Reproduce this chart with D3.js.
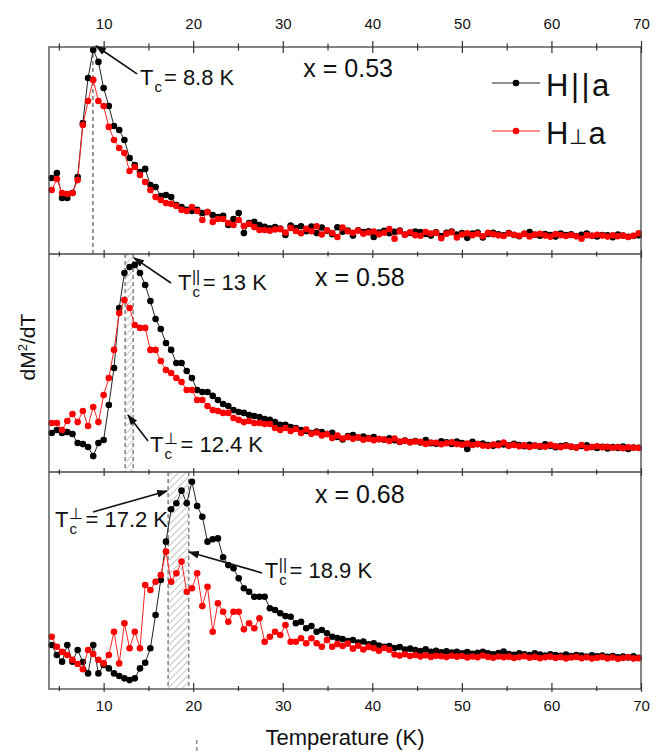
<!DOCTYPE html>
<html>
<head>
<meta charset="utf-8">
<script src="https://cdn.jsdelivr.net/npm/d3@7"></script>
<style>
  body { margin: 0; background: #fff; }
  text { font-family: 'Liberation Sans', Arial, sans-serif; fill: #111; }
</style>
</head>
<body>
<svg id="chart" width="663" height="752"></svg>
<script>
// measurement temperatures (K), shared by all panels
var temps = [
  4.2, 4.78, 5.36, 5.94, 6.52, 7.1, 7.68, 8.26, 8.84, 9.42,
  10.0, 10.58, 11.16, 11.74, 12.32, 12.9, 13.48, 14.06, 14.64, 15.22,
  15.8, 16.38, 16.96, 17.54, 18.12, 18.7, 19.28, 19.86, 20.44, 21.02,
  21.6, 22.18, 22.76, 23.34, 23.92, 24.5, 25.08, 25.66, 26.24, 26.82,
  27.4, 27.98, 28.56, 29.14, 29.72, 30.3, 30.88, 31.46, 32.04, 32.62,
  33.2, 33.78, 34.36, 34.94, 35.52, 36.1, 36.68, 37.26, 37.84, 38.42,
  39.0, 39.58, 40.16, 40.74, 41.32, 41.9, 42.48, 43.06, 43.64, 44.22,
  44.8, 45.38, 45.96, 46.54, 47.12, 47.7, 48.28, 48.86, 49.44, 50.02,
  50.6, 51.18, 51.76, 52.34, 52.92, 53.5, 54.08, 54.66, 55.24, 55.82,
  56.4, 56.98, 57.56, 58.14, 58.72, 59.3, 59.88, 60.46, 61.04, 61.62,
  62.2, 62.78, 63.36, 63.94, 64.52, 65.1, 65.68, 66.26, 66.84, 67.42,
  68.0, 68.58, 69.16, 69.74
];

// dM^2/dT, arbitrary units (0-100 per panel)
var para053 = [
  36.7, 39.1, 27.1, 27.1, 29.5, 37.2, 63.3, 85.0, 98.6, 92.8,
  80.2, 71.5, 61.8, 59.9, 55.1, 46.4, 43.0, 39.6, 41.1, 33.3,
  32.4, 28.0, 28.5, 27.5, 23.7, 22.7, 21.3, 20.8, 21.3, 19.8,
  20.3, 18.8, 17.9, 18.4, 14.0, 16.9, 19.8, 10.1, 15.0, 15.5,
  14.0,
  13.2, 12.4, 13.0, 12.3, 9.2, 13.8, 12.5, 13.4, 11.0, 13.3,
  10.1, 12.8, 11.2, 9.6, 12.9, 10.8, 11.3, 8.9, 11.5, 10.6,
  11.0, 8.2, 10.4, 11.2, 10.0, 10.7, 11.3, 9.4, 10.2, 10.9,
  10.6, 9.7, 8.9, 10.5, 8.7, 10.2, 10.8, 9.4, 10.1, 7.8,
  9.9, 10.4, 8.0, 9.7, 10.3, 9.5, 9.0, 10.1, 9.2, 8.6,
  9.8, 10.6, 9.3, 8.8, 9.6, 9.2, 8.4, 9.9, 9.1, 9.5,
  8.7, 9.3, 9.9, 8.8, 8.5, 9.2, 9.0, 8.1, 9.4, 8.9, 8.3, 8.7, 9.0
];
var perp053 = [
  30.9, 36.2, 29.5, 29.0, 29.5, 35.7, 62.3, 73.9, 84.1, 73.9,
  71.5, 61.4, 55.1, 51.2, 48.8, 40.1, 42.0, 38.2, 34.8, 30.9,
  27.5, 26.1, 24.6, 24.2, 23.2, 21.3, 20.8, 22.7, 20.8, 16.4,
  20.3, 15.5, 16.9, 16.9, 15.0, 14.0, 16.4, 13.5, 14.5, 13.0,
  11.6,
  11.6, 11.2, 11.8, 12.0, 10.4, 12.6, 11.1, 10.0, 12.2, 11.0,
  13.4, 9.4, 11.5, 10.1, 8.2, 12.8, 11.0, 10.3, 11.3, 9.8,
  10.4, 10.9, 9.5, 10.3, 12.1, 7.4, 11.0, 9.3, 10.5, 9.1,
  8.8, 10.6, 9.9, 10.2, 7.6, 9.8, 10.5, 8.0, 9.4, 10.0,
  9.1, 9.8, 8.6, 10.2, 9.5, 9.0, 8.7, 9.9, 9.3, 8.8,
  9.7, 8.5, 9.4, 9.8, 8.9, 8.3, 9.6, 9.1, 8.7, 9.2,
  8.6, 7.4, 9.1, 8.8, 9.3, 8.9, 8.4, 9.0, 8.6, 8.9, 8.2, 8.8, 10.0
];
var para058 = [
  17.9, 19.3, 17.9, 18.3, 17.4, 13.3, 12.8, 11.5, 7.3, 13.3,
  14.7, 30.7, 47.7, 75.2, 91.3, 94.0, 95.0, 91.3, 85.8, 78.4,
  70.2, 65.6, 59.2, 56.0, 50.0, 50.0, 46.3, 43.1, 37.6, 36.7,
  36.7, 34.9, 33.0, 31.2, 30.3, 28.4, 27.5, 27.1, 26.1, 25.7,
  25.2, 24.3, 23.9, 22.9, 21.6, 21.6, 20.6, 20.2,
  19.3, 18.8, 17.9, 18.5, 18.3, 17.4, 18.0, 16.1, 14.9, 16.5,
  17.0, 15.8, 16.3, 15.6, 16.0, 15.1, 14.8, 15.5, 14.6, 13.8,
  14.4, 13.7, 14.2, 13.5, 14.6, 13.2, 13.0, 14.1, 13.6, 12.9,
  14.0, 13.3, 10.6, 13.8, 12.8, 13.1, 12.4, 12.0, 13.0, 12.6,
  12.2, 12.9, 12.4, 11.8, 12.5, 12.1, 11.6, 12.7, 12.0, 11.4,
  11.9, 12.3, 11.6, 11.2, 11.9, 12.2, 11.5, 11.0, 11.6, 10.8,
  11.4, 11.0, 11.7, 10.6, 11.2, 11.1
];
var perp058 = [
  22.5, 22.5, 19.3, 23.4, 26.6, 22.9, 28.0, 21.1, 29.8, 22.9,
  35.3, 43.1, 56.0, 72.9, 78.9, 75.2, 67.4, 66.1, 66.1, 56.0,
  56.0, 50.9, 46.8, 45.4, 43.1, 41.3, 37.6, 37.6, 33.0, 33.0,
  30.3, 28.4, 28.0, 27.1, 27.1, 24.8, 23.9, 22.9, 23.4, 22.5,
  22.5, 22.0, 22.0, 20.2, 19.3, 20.2, 18.8, 19.7,
  17.9, 19.5, 17.5, 18.1, 16.8, 17.4, 15.6, 16.7, 15.4, 16.0,
  15.2, 15.9, 14.8, 15.3, 14.6, 15.1, 14.9, 14.2, 15.4, 13.9,
  14.3, 13.6, 14.0, 13.8, 12.9, 13.5, 13.4, 12.7, 13.2, 13.6,
  12.8, 12.5, 13.0, 12.4, 12.8, 12.1, 11.9, 12.6, 12.3, 13.5,
  12.0, 12.4, 11.8, 12.2, 11.5, 12.0, 11.9, 11.6, 12.5, 11.8,
  11.4, 11.9, 11.7, 11.2, 12.4, 11.0, 11.5, 11.8, 11.3, 11.6,
  11.1, 11.4, 10.9, 11.3, 11.2, 11.0
];
var para068 = [
  20.3, 15.7, 12.6, 20.3, 12.6, 18.0, 12.4, 7.2, 20.3, 7.2,
  11.1, 9.5, 7.2, 6.0, 4.9, 4.1, 4.9, 9.5, 12.1, 18.8,
  34.1, 50.2, 67.9, 82.8, 85.6, 91.4, 85.6, 95.5, 84.3, 79.4,
  67.9, 69.0, 69.4, 60.7, 57.1, 55.6, 51.0, 46.4, 44.8, 42.5,
  42.5, 42.5, 37.2, 36.4, 34.9, 33.6, 33.3, 30.3, 31.0, 28.0,
  29.0, 26.4, 27.2, 25.7, 24.1, 23.5,
  23.0, 22.1, 22.6, 21.4, 21.9, 20.6, 21.1, 20.0, 19.4, 19.8,
  18.9, 19.3, 18.2, 18.6, 18.0, 17.5, 18.3, 17.2, 17.6, 16.9,
  17.4, 16.8, 17.1, 16.5, 17.0, 16.2, 16.7, 17.2, 16.4, 16.0,
  16.6, 17.3, 16.1, 15.8, 16.4, 16.0, 15.7, 16.5, 15.9, 15.4,
  16.0, 15.6, 15.3, 15.9, 15.2, 15.7, 15.4, 14.9, 15.5, 15.1,
  15.4, 14.8, 15.2, 14.6, 15.0, 14.5, 15.1, 14.4
];
var perp068 = [
  24.1, 19.5, 17.1, 15.7, 13.4, 11.5, 9.1, 18.0, 16.1, 13.4,
  11.8, 15.7, 26.4, 11.8, 30.3, 18.8, 26.4, 18.8, 47.9, 45.6,
  49.4, 52.5, 63.3, 49.4, 53.3, 58.7, 44.8, 46.4, 53.3, 38.2,
  47.1, 26.4, 39.5, 35.6, 31.0, 35.6, 35.6, 27.5, 30.3, 28.0,
  32.6, 21.8, 24.1, 26.4, 24.9, 29.5, 21.8, 21.8, 23.4, 21.1,
  23.4, 21.1, 19.5, 22.6, 19.5, 20.7,
  19.8, 20.9, 18.6, 19.9, 18.2, 19.4, 18.8, 17.6, 18.9, 18.1,
  15.9, 15.4, 16.0, 15.2, 15.7, 15.0, 15.5, 14.8, 15.3, 15.1,
  14.7, 15.3, 14.9, 15.2, 14.5, 15.0, 14.6, 15.4, 14.8, 14.4,
  15.0, 14.6, 14.9, 14.3, 14.7, 15.1, 14.4, 14.8, 14.2, 14.6,
  14.9, 14.3, 14.7, 14.1, 14.5, 14.8, 14.2, 14.6, 14.0, 14.4,
  14.7, 14.1, 14.5, 13.9, 14.3, 14.6, 14.0, 14.2
];

var compositions = ['x = 0.53', 'x = 0.58', 'x = 0.68'];
var seriesNames = ['H||a', 'H\u22A5a'];
var majorTicks = [10, 20, 30, 40, 50, 60, 70];
var minorTicks = [5, 15, 25, 35, 45, 55, 65];

// transition temperatures (K)
var tcSingle = 8.8;
var band058 = [12.4, 13.3];
var band068 = [17.2, 19.5];

var svg = d3.select('#chart');
var fontAnn = 22;

var edges = [47, 254, 472, 689];
var x = d3.scaleLinear().domain([3.9, 70]).range([49, 641]);

var defs = svg.append('defs');
defs.append('pattern')
    .attr('id', 'hatch')
    .attr('patternUnits', 'userSpaceOnUse')
    .attr('width', 5).attr('height', 5)
    .attr('patternTransform', 'rotate(45)')
  .append('line')
    .attr('x1', 0).attr('y1', 0).attr('x2', 0).attr('y2', 5)
    .attr('stroke', '#888').attr('stroke-width', 1);

defs.append('marker')
    .attr('id', 'arrow')
    .attr('viewBox', '0 0 10 7')
    .attr('refX', 9).attr('refY', 3.5)
    .attr('markerWidth', 11).attr('markerHeight', 7.7)
    .attr('markerUnits', 'userSpaceOnUse')
    .attr('orient', 'auto')
  .append('path')
    .attr('d', 'M0,0 L10,3.5 L0,7 z')
    .attr('fill', '#111');

var panels = [
  {name: compositions[0], para: para053, perp: perp053, mark: tcSingle, lx: 32.3},
  {name: compositions[1], para: para058, perp: perp058, band: band058, lx: 33.6},
  {name: compositions[2], para: para068, perp: perp068, band: band068, lx: 33.6}
];

var yScales = [];

panels.forEach((p, k) => {
  var top = edges[k], bot = edges[k + 1];
  var y = d3.scaleLinear().domain([0, 100]).range([bot, top]);
  yScales.push(y);
  var g = svg.append('g');

  if (p.band)
  {
    g.append('rect')
      .attr('x', x(p.band[0]))
      .attr('y', top)
      .attr('width', x(p.band[1]) - x(p.band[0]))
      .attr('height', bot - top)
      .attr('fill', 'url(#hatch)');
    p.band.forEach(t => {
      g.append('line')
        .attr('x1', x(t)).attr('x2', x(t))
        .attr('y1', top).attr('y2', bot)
        .attr('stroke', '#8a8a8a').attr('stroke-width', 1.6)
        .attr('stroke-dasharray', '4,3');
    });
  }
  if (p.mark)
  {
    g.append('line')
      .attr('x1', x(p.mark)).attr('x2', x(p.mark))
      .attr('y1', top).attr('y2', bot)
      .attr('stroke', '#8a8a8a').attr('stroke-width', 1.8)
      .attr('stroke-dasharray', '4,3');
  }

  var line = d3.line().x((d, i) => x(temps[i])).y(d => y(d));

  [[p.para, '#000', '#222'], [p.perp, '#f00', '#f22']].forEach(s => {
    g.append('path')
      .datum(s[0])
      .attr('d', line)
      .attr('fill', 'none')
      .attr('stroke', s[2])
      .attr('stroke-width', 1);
    g.append('g')
      .selectAll('circle')
      .data(s[0])
      .enter()
      .append('circle')
      .attr('cx', (d, i) => x(temps[i]))
      .attr('cy', d => y(d))
      .attr('r', 3.3)
      .attr('fill', s[1]);
  });

  g.append('text')
    .attr('x', x(p.lx))
    .attr('y', y(85.5))
    .style('font-size', '25px')
    .text(p.name);
});

// frame + separators
svg.append('rect')
  .attr('x', x.range()[0]).attr('y', edges[0])
  .attr('width', x.range()[1] - x.range()[0]).attr('height', edges[3] - edges[0])
  .attr('fill', 'none').attr('stroke', '#444').attr('stroke-width', 1.3);

function ticks(yPos, up, down, vals)
{
  var a = svg.append('g').attr('transform', 'translate(0,' + yPos + ')');
  if (up > 0)
    a.call(d3.axisTop(x).tickValues(vals).tickSize(up).tickFormat(''));
  if (down > 0)
    a.append('g').call(d3.axisBottom(x).tickValues(vals).tickSize(down).tickFormat(''));
  a.selectAll('.domain').remove();
  a.selectAll('line').attr('stroke', '#333').attr('stroke-width', 1.2);
  return a;
}

[edges[1], edges[2]].forEach(e => {
  svg.append('line')
    .attr('x1', x.range()[0]).attr('x2', x.range()[1])
    .attr('y1', e).attr('y2', e)
    .attr('stroke', '#444').attr('stroke-width', 1.3);
  ticks(e, 4, 4, majorTicks);
  ticks(e, 2.5, 2.5, minorTicks);
});

// top axis
ticks(edges[0], 6, 6, majorTicks);
ticks(edges[0], 3.5, 3.5, minorTicks);
var topLab = svg.append('g')
  .attr('transform', 'translate(0,' + edges[0] + ')')
  .call(d3.axisTop(x).tickValues(majorTicks).tickSize(0).tickPadding(18));
topLab.select('.domain').remove();
topLab.selectAll('text').style('font-size', '15px').style('font-family', "'Liberation Sans', Arial, sans-serif").attr('fill', '#222');

// bottom axis
ticks(edges[3], 6, 3, majorTicks);
ticks(edges[3], 3, 2, minorTicks);
var botLab = svg.append('g')
  .attr('transform', 'translate(0,' + edges[3] + ')')
  .call(d3.axisBottom(x).tickValues(majorTicks).tickSize(0).tickPadding(11));
botLab.select('.domain').remove();
botLab.selectAll('text').style('font-size', '15px').style('font-family', "'Liberation Sans', Arial, sans-serif").attr('fill', '#222');

svg.append('text')
  .attr('x', (x.range()[0] + x.range()[1]) / 2)
  .attr('y', 745)
  .attr('text-anchor', 'middle')
  .style('font-size', '22px')
  .text('Temperature (K)');

var yl = svg.append('text')
  .attr('transform', 'translate(35,347) rotate(-90)')
  .attr('text-anchor', 'middle')
  .style('font-size', '21px');
yl.append('tspan').text('dM');
yl.append('tspan').attr('dy', -8).style('font-size', '13px').text('2');
yl.append('tspan').attr('dy', 8).text('/dT');

// stray dashed stub below the axis
svg.append('line')
  .attr('x1', x(20.4)).attr('x2', x(20.4))
  .attr('y1', 740).attr('y2', 752)
  .attr('stroke', '#8a8a8a').attr('stroke-width', 1.5)
  .attr('stroke-dasharray', '4,3');

// legend
[['#222', '#000', 83], ['#f22', '#f00', 131]].forEach(l => {
  svg.append('line')
    .attr('x1', 492).attr('x2', 540).attr('y1', l[2]).attr('y2', l[2])
    .attr('stroke', l[0]).attr('stroke-width', 1.2);
  svg.append('circle').attr('cx', 516).attr('cy', l[2]).attr('r', 3.3).attr('fill', l[1]);
});
svg.append('text').attr('x', 546).attr('y', 96)
  .style('font-size', '31px').style('letter-spacing', '2.5px')
  .text(seriesNames[0]);
var lp = svg.append('text').attr('x', 546).attr('y', 144)
  .style('font-size', '31px').style('letter-spacing', '1px');
lp.append('tspan').text('H');
lp.append('tspan').style('font-size', '21px').text('\u22A5');
lp.append('tspan').text('a');

// annotations
function tcLabel(px, py, sup, rest)
{
  var g = svg.append('g');
  var t = g.append('text').attr('x', px).attr('y', py).style('font-size', fontAnn + 'px').text('T');
  var w = t.node().getComputedTextLength();
  var wSup = 0;
  if (sup)
  {
    var s = g.append('text').attr('x', px + w + 0.5).attr('y', py - fontAnn * 0.38)
      .style('font-size', (fontAnn * 0.72) + 'px').text(sup);
    wSup = s.node().getComputedTextLength();
  }
  var c = g.append('text').attr('x', px + w + 1).attr('y', py + fontAnn * 0.32)
    .style('font-size', (fontAnn * 0.68) + 'px').text('c');
  var wc = Math.max(c.node().getComputedTextLength(), wSup);
  g.append('text').attr('x', px + w + wc + 3).attr('y', py)
    .style('font-size', fontAnn + 'px').text(rest);
}

function arrow(x1, y1, x2, y2)
{
  svg.append('line')
    .attr('x1', x1).attr('y1', y1).attr('x2', x2).attr('y2', y2)
    .attr('stroke', '#111').attr('stroke-width', 1.6)
    .attr('marker-end', 'url(#arrow)');
}

var y1 = yScales[0], y2 = yScales[1], y3 = yScales[2];

tcLabel(x(14.06), y1(81.6), null, '= 8.8 K');
arrow(x(13.73), y1(87.0), x(9.15), y1(100.5));

tcLabel(x(18.3), y2(83.5), '||', '= 13 K');
arrow(x(17.52), y2(86.7), x(13.39), y2(98.2));
tcLabel(x(15.18), y2(9.2), '\u22A5', '= 12.4 K');
arrow(x(14.96), y2(14.2), x(12.72), y2(26.1));

tcLabel(x(4.57), y3(74.7), '\u22A5', '= 17.2 K');
arrow(x(8.81), y3(81.6), x(17.08), y3(91.2));
tcLabel(x(28.0), y3(51.2), '||', '= 18.9 K');
arrow(x(27.69), y3(53.5), x(19.53), y3(63.1));
</script>
</body>
</html>
